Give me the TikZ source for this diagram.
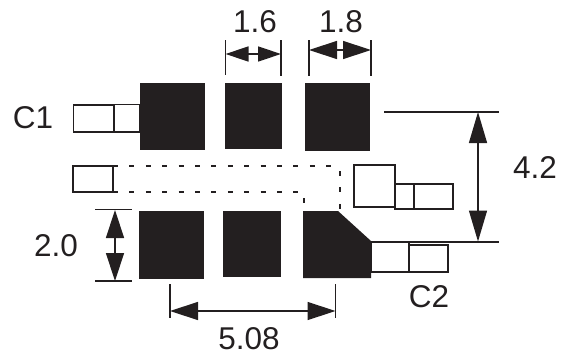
\documentclass[tikz,border=0pt]{standalone}
\usepackage{fontspec}
\setmainfont{Liberation Sans}
\usetikzlibrary{arrows.meta}
\definecolor{ink}{HTML}{231F20}
\tikzset{
  pad/.style={fill=ink,draw=none},
  outl/.style={draw=ink,line width=1.5pt,fill=white,line join=miter},
  edgeline/.style={draw=ink,line width=1.5pt},
  dots/.style={draw=ink,line width=1.6pt,dash pattern=on 5pt off 11.4pt},
  ext/.style={draw=ink,line width=1.4pt},
  dimS/.style={draw=ink,line width=1.4pt,{Triangle[length=23pt,width=15pt]}-{Triangle[length=23pt,width=15pt]}},
  dimM/.style={draw=ink,line width=1.4pt,{Triangle[length=28pt,width=18pt]}-{Triangle[length=28pt,width=18pt]}},
  dimL/.style={draw=ink,line width=1.4pt,{Triangle[length=31pt,width=18pt]}-{Triangle[length=31pt,width=18pt]}},
  lbl/.style={text=ink,inner sep=0pt,font=\fontsize{31.5}{32}\selectfont}
}
\begin{document}
\begin{tikzpicture}[x=1pt,y=-1pt]
\useasboundingbox (0,0) rectangle (573,356);
% dotted outline
\draw[dots] (113,166) -- (338,166);
\draw[dots] (340,171) -- (340,211);
\draw[dots] (113,192) -- (304,192);
\draw[dots] (304,198) -- (304,211);
% outlined lands
\draw[outl] (73.5,105) rectangle (114,132);
\draw[outl] (114,104.5) rectangle (140,132);
\draw[outl] (73,166) rectangle (113,192);
\draw[outl] (354,165) rectangle (395,207);
\draw[outl] (395,184) rectangle (414,209);
\draw[outl] (414,184) rectangle (453,209);
\draw[outl] (371,242) rectangle (409,272);
\draw[outl] (409,245) rectangle (448,272);
% pads
\fill[pad] (140,83) rectangle (205,150);
\fill[pad] (225,83) rectangle (282,149);
\fill[pad] (304.5,83) rectangle (370,150.5);
\fill[pad] (139,211) rectangle (204,279);
\fill[pad] (223,211) rectangle (281,277);
\fill[pad] (303,211) -- (338,211) -- (371,241) -- (371,278) -- (303,278) -- cycle;
% extension lines
\coordinate (a1) at (225.5,54); \coordinate (a2) at (281,54);
\coordinate (b1) at (309,50); \coordinate (b2) at (371,50);
\coordinate (c1) at (478,112); \coordinate (c2) at (478,241.5);
\coordinate (d1) at (115,210); \coordinate (d2) at (115,281);
\coordinate (e1) at (170,311); \coordinate (e2) at (335.5,311);
\draw[ext] (225.5,40) -- (225.5,75);
\draw[ext] (281,40) -- (281,76);
\draw[ext] (309,40) -- (309,76);
\draw[ext] (371,40) -- (371,76);
\draw[edgeline] (384,112) -- (499,112);
\draw[edgeline] (371,242) -- (499,242);
\draw[ext] (95,209.5) -- (132,209.5);
\draw[ext] (95,281) -- (132,281);
\draw[ext] (170,284) -- (170,318);
\draw[ext] (335.5,284) -- (335.5,318);
% dimension arrows
\draw[dimS] (a1) -- (a2);
\draw[dimM] (b1) -- (b2);
\draw[dimL] (c1) -- (c2);
\draw[dimM] (d1) -- (d2);
\draw[dimM] (e1) -- (e2);
% labels
\node[lbl] (t16) at (255,22) {1.6};
\node[lbl] (t18) at (341,22) {1.8};
\node[lbl] (tc1) at (33,118) {C1};
\node[lbl] (t42) at (535,168) {4.2};
\node[lbl] (t20) at (56,246) {2.0};
\node[lbl] (t508) at (249,339) {5.08};
\node[lbl] (tc2) at (429,297) {C2};
\end{tikzpicture}
\end{document}
